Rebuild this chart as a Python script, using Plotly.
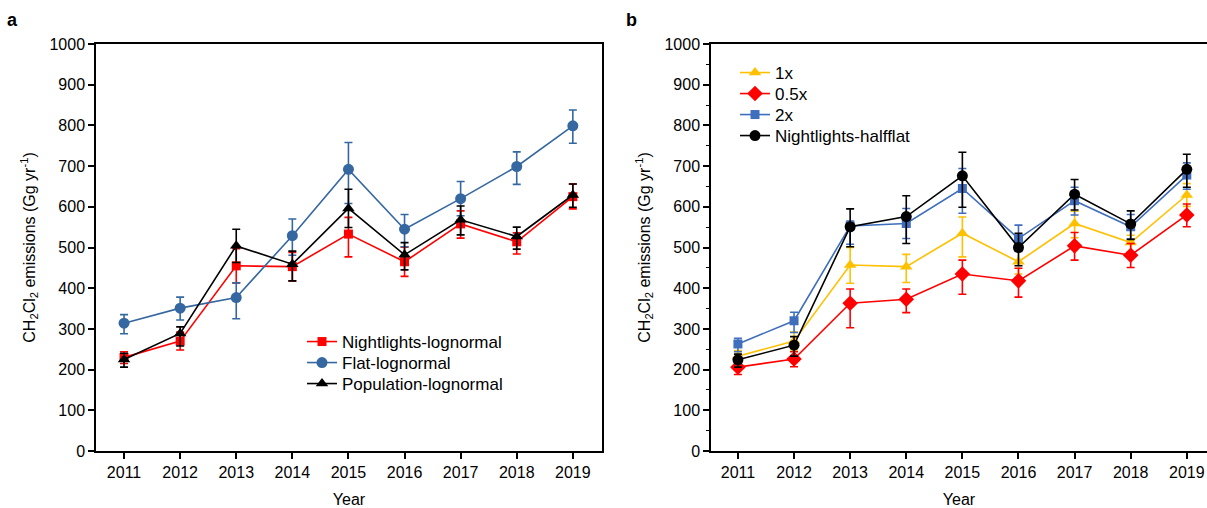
import plotly.graph_objects as go

years = [2011, 2012, 2013, 2014, 2015, 2016, 2017, 2018, 2019]
year_labels = ["2011", "2012", "2013", "2014", "2015", "2016", "2017", "2018", "2019"]

# Panel a
nl_logn = [230, 270, 455, 453, 533, 465, 558, 514, 625]
nl_logn_up = [14, 22, 42, 35, 41, 36, 32, 22, 31]
nl_logn_dn = [15, 22, 42, 35, 56, 36, 35, 30, 30]

flat_logn = [314, 351, 377, 529, 692, 545, 620, 699, 799]
flat_logn_up = [21, 27, 36, 41, 66, 36, 42, 36, 39]
flat_logn_dn = [26, 29, 52, 48, 84, 43, 42, 44, 43]

pop_logn = [225, 289, 504, 459, 596, 482, 568, 527, 629]
pop_logn_up = [15, 16, 41, 32, 47, 30, 34, 23, 27]
pop_logn_dn = [19, 31, 41, 41, 47, 37, 37, 31, 30]

# Panel b
one_x = [233, 270, 457, 453, 535, 465, 559, 512, 629]
one_x_up = [14, 22, 43, 30, 40, 30, 30, 18, 28]
one_x_dn = [15, 22, 45, 39, 58, 30, 35, 25, 28]

half_x = [206, 226, 363, 373, 435, 418, 504, 481, 580]
half_x_up = [13, 18, 35, 25, 34, 31, 33, 29, 27]
half_x_dn = [18, 19, 60, 33, 50, 40, 35, 30, 29]

two_x = [263, 320, 553, 559, 645, 522, 615, 551, 678]
two_x_up = [14, 21, 12, 37, 49, 33, 33, 30, 30]
two_x_dn = [19, 29, 45, 37, 61, 32, 35, 30, 35]

nl_halfflat = [224, 260, 551, 576, 676, 500, 631, 558, 692]
nl_halfflat_up = [14, 21, 44, 51, 58, 35, 36, 32, 37]
nl_halfflat_dn = [18, 27, 49, 66, 77, 45, 39, 38, 44]

FONT = "Arial, Liberation Sans, sans-serif"
RED = "#FF0000"
BLUE_A = "#3568A0"
BLUE_B = "#3F6EBD"
YELLOW = "#FFC000"
BLACK = "#000000"

W, H = 1207, 508
TOP, BOT = 44, 451


def py(p):
    """pixel row -> paper y (paper spans the plot area inside margins)"""
    return (BOT - p) / (BOT - TOP)


fig = go.Figure()

series = [
    # name, y, up, dn, color, symbol, size, xaxis, yaxis, legend x(px), legend y(px)
    ("Nightlights-lognormal", nl_logn, nl_logn_up, nl_logn_dn, RED, "square", 9, "x", "y", 302, 342),
    ("Flat-lognormal", flat_logn, flat_logn_up, flat_logn_dn, BLUE_A, "circle", 11, "x", "y", 302, 363),
    ("Population-lognormal", pop_logn, pop_logn_up, pop_logn_dn, BLACK, "triangle-up", 11, "x", "y", 302, 384),
    ("1x", one_x, one_x_up, one_x_dn, YELLOW, "triangle-up", 11, "x2", "y2", 735, 73),
    ("0.5x", half_x, half_x_up, half_x_dn, RED, "diamond", 12, "x2", "y2", 735, 94),
    ("2x", two_x, two_x_up, two_x_dn, BLUE_B, "square", 9, "x2", "y2", 735, 115),
    ("Nightlights-halfflat", nl_halfflat, nl_halfflat_up, nl_halfflat_dn, BLACK, "circle", 11, "x2", "y2", 735, 136),
]

legend_layout = {}
for i, (name, y, up, dn, color, symbol, size, xa, ya, lx, ly) in enumerate(series):
    lname = "legend" if i == 0 else f"legend{i + 1}"
    fig.add_trace(go.Scatter(
        x=years, y=y, name=name, mode="lines+markers", showlegend=True,
        line=dict(color=color, width=1.6),
        marker=dict(color=color, symbol=symbol, size=size, line=dict(width=0)),
        error_y=dict(type="data", symmetric=False, array=up, arrayminus=dn,
                     color=color, thickness=1.6, width=4),
        xaxis=xa, yaxis=ya, legend=lname,
    ))
    legend_layout[lname] = dict(
        x=lx / W, y=py(ly), xanchor="left", yanchor="middle",
        font=dict(family=FONT, size=17, color="black"),
        bgcolor="rgba(0,0,0,0)", borderwidth=0, itemwidth=30,
    )

common_x = dict(
    tickmode="array", tickvals=years, ticktext=year_labels,
    ticks="outside", ticklen=6, tickwidth=1.5, tickcolor="black",
    showline=True, linecolor="black", linewidth=1.5, showgrid=False, zeroline=False,
    tickfont=dict(family=FONT, size=16, color="black"),
    title=dict(text="Year", font=dict(family=FONT, size=16, color="black"), standoff=14),
)
common_y = dict(
    range=[0, 1000], tickmode="linear", tick0=0, dtick=100,
    ticks="outside", ticklen=6, tickwidth=1.5, tickcolor="black",
    showline=True, linecolor="black", linewidth=1.5, showgrid=False, zeroline=False,
    tickfont=dict(family=FONT, size=16, color="black"),
    title=dict(text="CH<sub>2</sub>Cl<sub>2</sub> emissions (Gg yr<sup>-1</sup>)",
               font=dict(family=FONT, size=16, color="black"), standoff=10),
)

fig.update_layout(
    width=W, height=H, showlegend=True,
    margin=dict(l=0, r=0, t=TOP, b=H - BOT, autoexpand=False),
    paper_bgcolor="white", plot_bgcolor="white",
    font=dict(family=FONT, color="black"),
    xaxis=dict(common_x, domain=[96 / W, 602 / W], range=[2010.5, 2019.52], mirror=True, anchor="y"),
    yaxis=dict(common_y, domain=[0, 1], mirror=True, anchor="x"),
    xaxis2=dict(common_x, domain=[711 / W, 1.0], range=[2010.52, 2019.36], mirror=True, anchor="y2"),
    yaxis2=dict(common_y, domain=[0, 1], mirror=False, anchor="x2",
                minor=dict(ticks="outside", ticklen=3, dtick=50, tickwidth=1.2, tickcolor="black")),
    annotations=[
        dict(text="<b>a</b>", x=12 / W, y=py(20), xref="paper", yref="paper",
             xanchor="center", yanchor="middle", showarrow=False,
             font=dict(family=FONT, size=18, color="black")),
        dict(text="<b>b</b>", x=631 / W, y=py(20), xref="paper", yref="paper",
             xanchor="center", yanchor="middle", showarrow=False,
             font=dict(family=FONT, size=18, color="black")),
    ],
    **legend_layout,
)

fig.write_html("out.html")
